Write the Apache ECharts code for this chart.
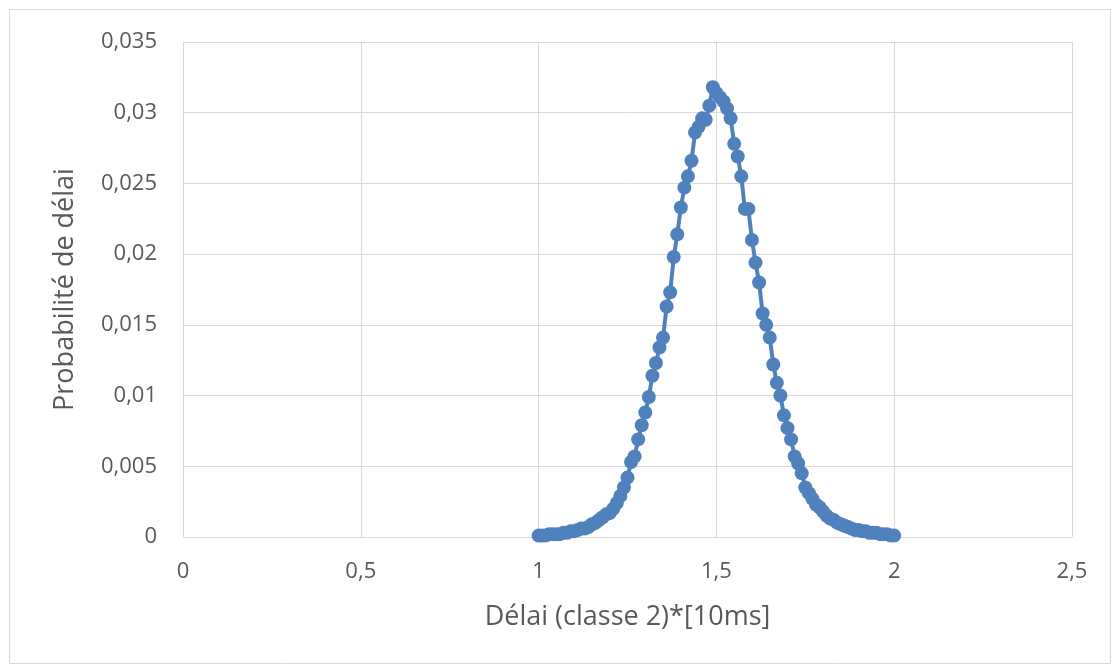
<!DOCTYPE html>
<html>
<head>
<meta charset="utf-8">
<script src="https://cdn.jsdelivr.net/npm/echarts@6/dist/echarts.min.js"></script>
<style>
html, body { margin: 0; padding: 0; background: #fff; }
#chart { width: 1117px; height: 671px; }
</style>
</head>
<body>
<div id="chart"></div>
<script>
// délai (x) et probabilité (y)
var delais = [
    1.00, 1.01, 1.02, 1.03, 1.04, 1.05, 1.06, 1.07, 1.08, 1.09,
    1.10, 1.11, 1.12, 1.13, 1.14, 1.15, 1.16, 1.17, 1.18, 1.19,
    1.20, 1.21, 1.22, 1.23, 1.24, 1.25, 1.26, 1.27, 1.28, 1.29,
    1.30, 1.31, 1.32, 1.33, 1.34, 1.35, 1.36, 1.37, 1.38, 1.39,
    1.40, 1.41, 1.42, 1.43, 1.44, 1.45, 1.46, 1.47, 1.48, 1.49,
    1.50, 1.51, 1.52, 1.53, 1.54, 1.55, 1.56, 1.57, 1.58, 1.59,
    1.60, 1.61, 1.62, 1.63, 1.64, 1.65, 1.66, 1.67, 1.68, 1.69,
    1.70, 1.71, 1.72, 1.73, 1.74, 1.75, 1.76, 1.77, 1.78, 1.79,
    1.80, 1.81, 1.82, 1.83, 1.84, 1.85, 1.86, 1.87, 1.88, 1.89,
    1.90, 1.91, 1.92, 1.93, 1.94, 1.95, 1.96, 1.97, 1.98, 1.99,
    2.00
];
var probabilites = [
    0.0001, 0.0001, 0.0001, 0.0002, 0.0002, 0.0002, 0.0002, 0.0003, 0.0003, 0.0004,
    0.0004, 0.0005, 0.0006, 0.0006, 0.0007, 0.0009, 0.0010, 0.0012, 0.0014, 0.0016,
    0.0017, 0.0020, 0.0024, 0.0029, 0.0035, 0.0042, 0.0053, 0.0057, 0.0069, 0.0079,
    0.0088, 0.0099, 0.0114, 0.0123, 0.0134, 0.0141, 0.0163, 0.0173, 0.0198, 0.0214,
    0.0233, 0.0247, 0.0255, 0.0266, 0.0286, 0.0290, 0.0296, 0.0295, 0.0305, 0.0318,
    0.0314, 0.0311, 0.0308, 0.0303, 0.0296, 0.0278, 0.0269, 0.0255, 0.0232, 0.0232,
    0.0210, 0.0194, 0.0180, 0.0158, 0.0150, 0.0141, 0.0122, 0.0109, 0.0100, 0.0086,
    0.0077, 0.0069, 0.0057, 0.0052, 0.0045, 0.0035, 0.0031, 0.0027, 0.0023, 0.0021,
    0.0018, 0.0015, 0.0013, 0.0012, 0.0010, 0.0009, 0.0008, 0.0007, 0.0006, 0.0005,
    0.0005, 0.0004, 0.0004, 0.0003, 0.0003, 0.0003, 0.0002, 0.0002, 0.0002, 0.0001,
    0.0001
];

var police = 'Open Sans';
var gris = '#595959';

function virgule(v) {
    return String(v).replace('.', ',');
}

var points = [];
for (var i = 0; i < delais.length; i++) {
    points.push([delais[i], probabilites[i]]);
}

var option = {
    animation: false,
    textStyle: { fontFamily: police },
    graphic: [{
        type: 'rect',
        shape: { x: 9.5, y: 9.5, width: 1101, height: 654 },
        style: { fill: 'none', stroke: '#d9d9d9', lineWidth: 1 }
    }],
    grid: {
        left: 183,
        right: 45,
        top: 42,
        bottom: 134
    },
    xAxis: {
        type: 'value',
        min: 0,
        max: 2.5,
        interval: 0.5,
        name: 'Délai (classe 2)*[10ms]',
        nameLocation: 'middle',
        nameGap: 67,
        nameTextStyle: { fontSize: 27, color: gris, fontFamily: police },
        axisLine: { show: false },
        axisTick: { show: false },
        axisLabel: {
            fontSize: 22, color: gris, margin: 24, fontFamily: police,
            formatter: virgule
        },
        splitLine: { show: true, lineStyle: { color: '#d9d9d9', width: 1 } }
    },
    yAxis: {
        type: 'value',
        min: 0,
        max: 0.035,
        interval: 0.005,
        name: 'Probabilité de délai',
        nameLocation: 'middle',
        nameGap: 104,
        nameTextStyle: { fontSize: 27, color: gris, fontFamily: police },
        axisLine: { show: false },
        axisTick: { show: false },
        axisLabel: {
            fontSize: 22, color: gris, margin: 26, fontFamily: police,
            formatter: virgule
        },
        splitLine: { show: true, lineStyle: { color: '#d9d9d9', width: 1 } }
    },
    series: [{
        type: 'line',
        data: points,
        symbol: 'circle',
        symbolSize: 14,
        showAllSymbol: true,
        lineStyle: { color: '#4f81bd', width: 4 },
        itemStyle: { color: '#4f81bd' }
    }]
};

var echart = echarts.init(document.getElementById('chart'));
echart.setOption(option, true);
</script>
</body>
</html>
